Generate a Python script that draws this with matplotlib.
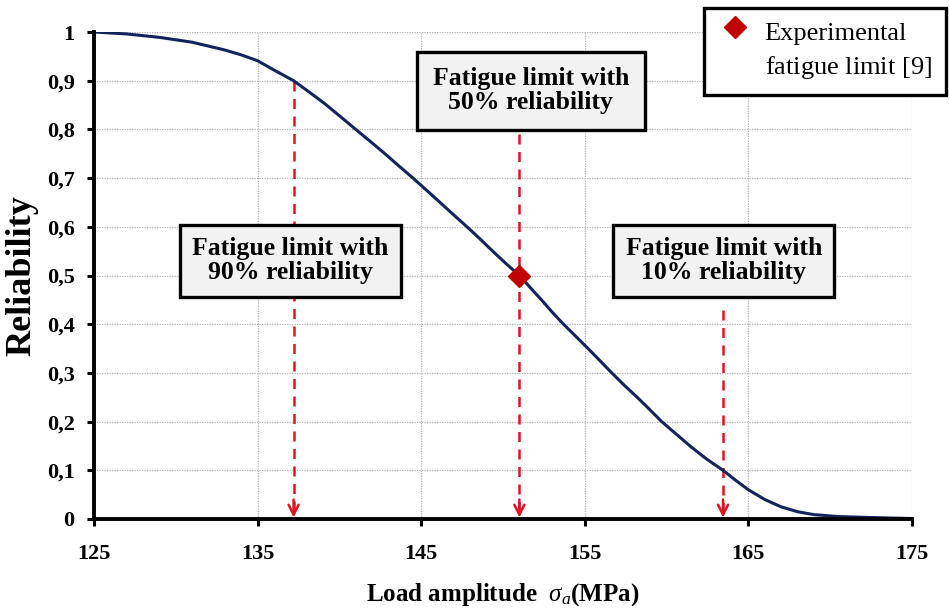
import matplotlib
matplotlib.use("Agg")
import matplotlib.pyplot as plt

# ---- data ----
load_amplitude = [125.0, 127.0, 129.0, 131.0, 133.0, 134.0, 135.0, 136.0, 137.2, 138.1,
                  139.1, 140.0, 141.0, 141.9, 142.75, 143.6, 144.5, 145.3, 146.15, 147.0,
                  147.8, 148.6, 149.4, 150.2, 151.0, 151.7, 152.35, 153.0, 153.7, 154.45,
                  155.2, 155.9, 156.65, 157.4, 158.2, 158.9, 159.7, 160.6, 161.5, 162.45,
                  163.45, 164.2, 165.0, 166.0, 167.0, 168.0, 169.0, 170.5, 172.5, 175.0]
reliability = [1.000, 0.996, 0.989, 0.979, 0.963, 0.953, 0.941, 0.922, 0.900, 0.878,
               0.853, 0.828, 0.800, 0.775, 0.751, 0.726, 0.700, 0.676, 0.650, 0.624,
               0.600, 0.575, 0.549, 0.524, 0.500, 0.474, 0.450, 0.425, 0.400, 0.375,
               0.350, 0.326, 0.300, 0.275, 0.250, 0.227, 0.200, 0.174, 0.148, 0.123,
               0.100, 0.080, 0.060, 0.040, 0.025, 0.015, 0.009, 0.005, 0.003, 0.001]

exp_x = [151.0]
exp_y = [0.5]

limit_levels = ["90%", "50%", "10%"]
limit_x = [137.2, 151.0, 163.45]
limit_y = [0.9, 0.5, 0.1]

x_ticks = [125, 135, 145, 155, 165, 175]
y_ticks = [0, 0.1, 0.2, 0.3, 0.4, 0.5, 0.6, 0.7, 0.8, 0.9, 1.0]
y_ticklabels = ["0", "0,1", "0,2", "0,3", "0,4", "0,5", "0,6", "0,7", "0,8", "0,9", "1"]

plt.rcParams['font.family'] = ['Liberation Serif', 'DejaVu Serif']
plt.rcParams['mathtext.fontset'] = 'custom'
plt.rcParams['mathtext.rm'] = 'Liberation Serif'
plt.rcParams['mathtext.it'] = 'Liberation Serif:italic'
plt.rcParams['mathtext.bf'] = 'Liberation Serif:bold'

fig = plt.figure(figsize=(9.49, 6.13), dpi=100)
ax = fig.add_axes([94 / 949, 1 - 519 / 613, 818 / 949, 487 / 613])

ax.set_xlim(125, 175)
ax.set_ylim(0, 1)

ax.grid(True, color='#b4b4b4', linestyle=(0, (1, 1)), linewidth=0.9)
ax.set_axisbelow(True)

ax.plot(load_amplitude, reliability, color='#13235e', linewidth=2.2, zorder=3,
        solid_joinstyle='round', solid_capstyle='round')

red = '#e0141e'
# box positions (layout)
box_pos = {"90%": (137.0, 0.530), "50%": (151.7, 0.879), "10%": (163.5, 0.530)}
box_pad = {"90%": 0.48, "50%": 0.62, "10%": 0.48}
line_tops = {"90%": None, "50%": 0.79, "10%": 0.43}
for lev, lx, ly in zip(limit_levels, limit_x, limit_y):
    top = ly if line_tops[lev] is None else line_tops[lev]
    ax.plot([lx, lx], [top, 0.02], color=red, linestyle=(0, (4, 3)), linewidth=1.8, zorder=2)
    ax.annotate("", xy=(lx, 0.003), xytext=(lx, 0.04),
                arrowprops=dict(arrowstyle='->', color=red, lw=1.8,
                                mutation_scale=18, shrinkA=0, shrinkB=0), zorder=2)
    bx, by = box_pos[lev]
    ax.text(bx, by, f"Fatigue limit with\n{lev} reliability", ha='center', va='center',
            fontsize=18.5, fontweight='bold', linespacing=1.05, zorder=5,
            bbox=dict(boxstyle=f'square,pad={box_pad[lev]}', facecolor='#f2f2f2',
                      edgecolor='black', linewidth=2.4))

ax.plot(exp_x, exp_y, linestyle='none', marker='D', markersize=11,
        color='#c00000', zorder=6, label="Experimental\nfatigue limit [$\\mathit{9}$]")

leg = ax.legend(loc='upper right', bbox_to_anchor=(946 / 949, 1 - 8 / 613),
                bbox_transform=fig.transFigure, fontsize=19, frameon=True,
                fancybox=False, handlelength=1.3, handletextpad=0.45,
                borderpad=0.55, borderaxespad=0, markerscale=1.0)
leg.get_frame().set_edgecolor('black')
leg.get_frame().set_linewidth(2.4)
leg.get_frame().set_alpha(1)
for t in leg.get_texts():
    t.set_linespacing(1.45)
h = leg.legend_handles[0]
h.set_ydata([y + 0.9 * 19 for y in h.get_ydata()])

ax.set_xticks(x_ticks)
ax.set_xticklabels([str(t) for t in x_ticks])
ax.set_yticks(y_ticks)
ax.set_yticklabels(y_ticklabels)
ax.tick_params(axis='both', direction='out', length=5, width=2.2, labelsize=16)
ax.tick_params(axis='x', pad=13)
ax.tick_params(axis='y', pad=9)
for lab in ax.get_xticklabels() + ax.get_yticklabels():
    lab.set_fontweight('bold')

for s in ['top', 'right']:
    ax.spines[s].set_visible(False)
for s in ['left', 'bottom']:
    ax.spines[s].set_linewidth(2.8)
    ax.spines[s].set_zorder(7)

ax.set_ylabel("Reliability", fontsize=26, fontweight='bold', labelpad=6)
ax.set_xlabel("Load amplitude  $\\sigma_a$(MPa)", fontsize=18, fontweight='bold', labelpad=12)

fig.savefig("out.png", dpi=100)
